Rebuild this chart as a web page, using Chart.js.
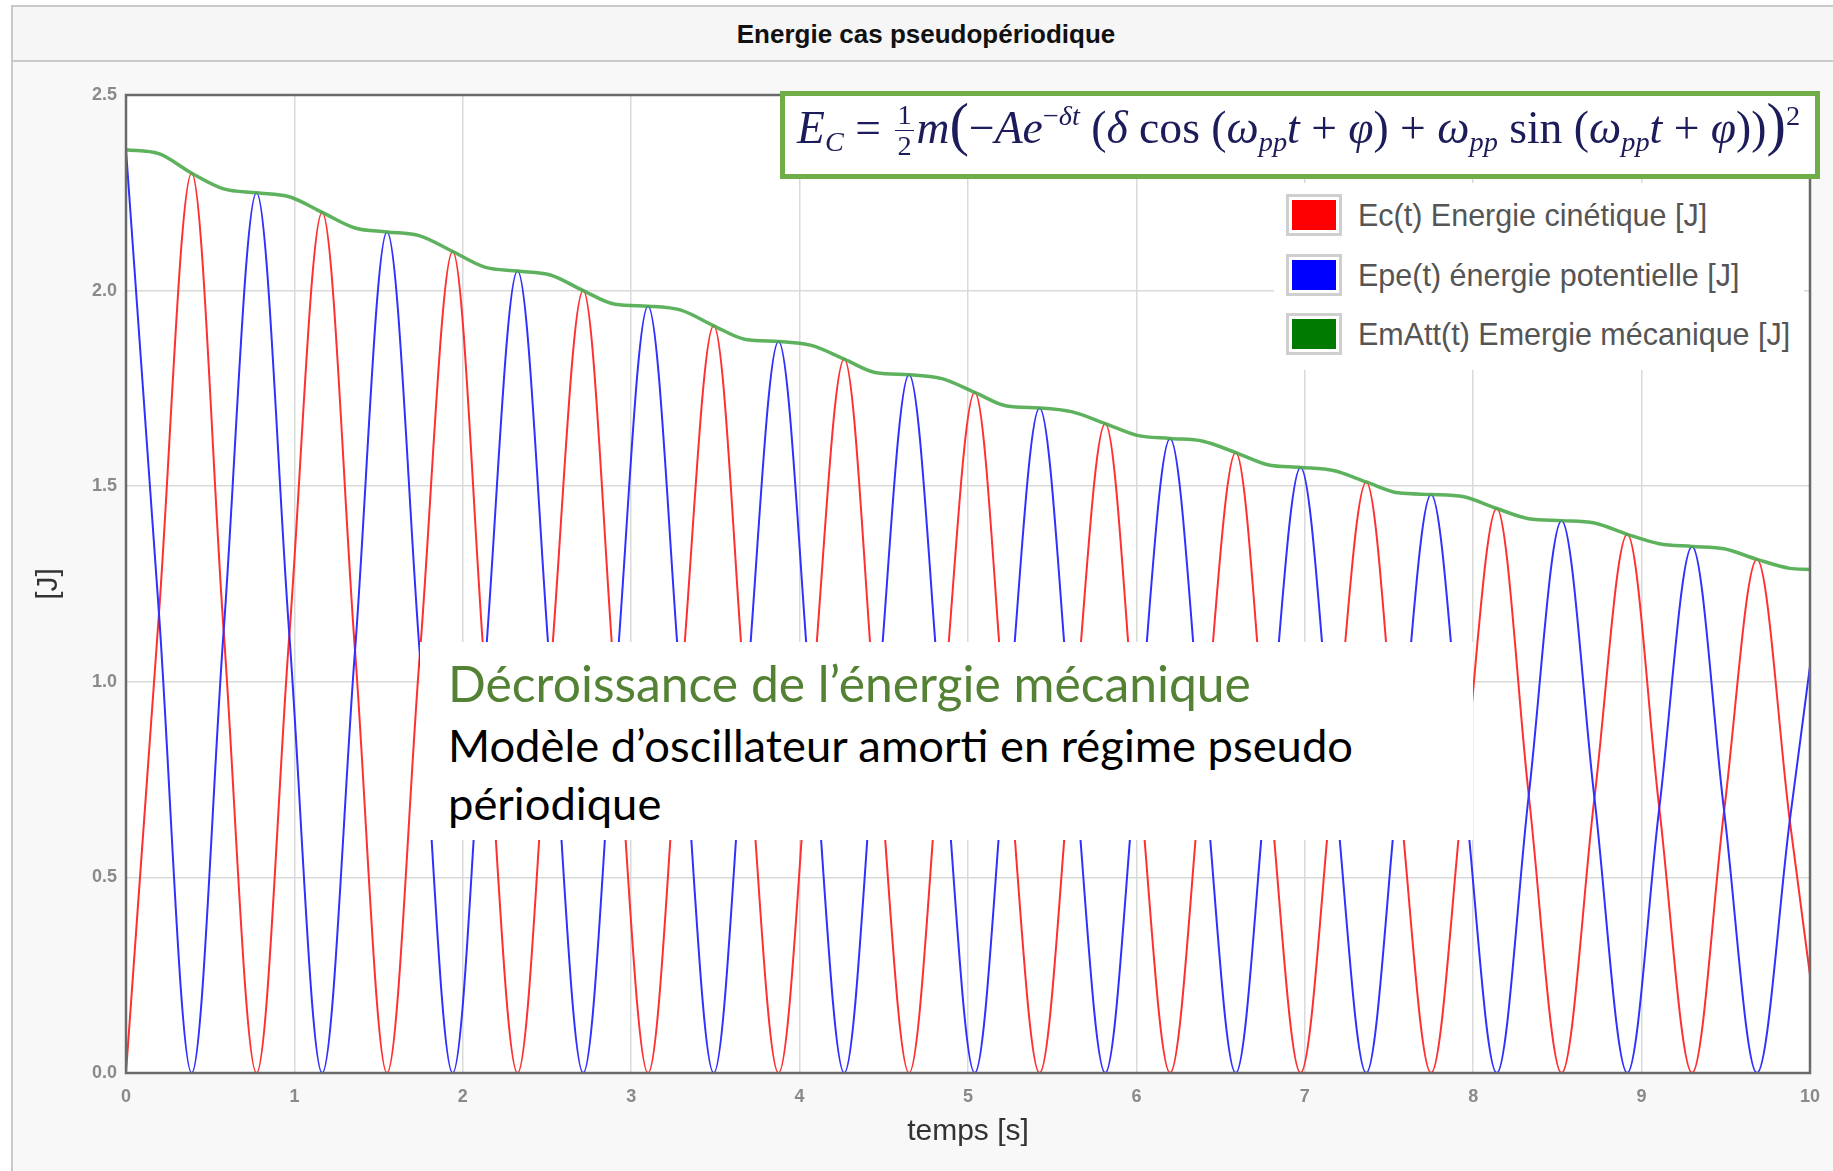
<!DOCTYPE html>
<html><head><meta charset="utf-8">
<script src="https://cdn.jsdelivr.net/npm/chart.js@4.4.1/dist/chart.umd.min.js"></script>
<style>
html,body{margin:0;padding:0;background:#fff;width:1833px;height:1171px;overflow:hidden;position:relative;}
#frame{position:absolute;left:11px;top:5px;width:1840px;height:1190px;border:2px solid #c9c9c9;background:#f8f8f8;box-sizing:border-box;}
#titlebar{position:absolute;left:11px;top:5px;width:1830px;height:57px;border:2px solid #c9c9c9;box-sizing:border-box;background:#f6f6f6;font:bold 26px "Liberation Sans",Arial,sans-serif;color:#111;text-align:center;line-height:54px;}
#c{position:absolute;left:0;top:0;}
.ov{position:absolute;}
.txt{position:absolute;white-space:nowrap;line-height:1.2;}
.bl{display:inline-block;width:0;height:0;vertical-align:baseline;}
#fbox{left:780px;top:91px;width:1040px;height:88px;border:5px solid #70ad47;background:#fff;box-sizing:border-box;}
#formula{font-family:"Liberation Serif","DejaVu Serif",serif;color:#1c1c5a;font-size:38px;}
#formula i{font-style:italic;}
#formula sub,#formula sup{font-size:0.62em;line-height:0;}
#formula sub{vertical-align:-0.28em;}
#formula sup{vertical-align:0.62em;}
.frac{display:inline-block;vertical-align:-0.42em;text-align:center;font-size:0.62em;line-height:1.05;margin:0 0.08em;}
.frac span{display:block;padding:0 0.1em;}
.frac .num{border-bottom:1.5px solid #1c1c5a;}
.big{font-size:1.28em;display:inline-block;transform:translateY(0.02em);}
#legbg{left:1274px;top:183px;width:530px;height:187px;background:#fff;}
.lbox{position:absolute;left:1286px;width:56px;height:42px;border:3px solid #cfcfcf;background:#fff;box-sizing:border-box;padding:3px;}
.lbox div{width:100%;height:100%;}
.ltxt{font-family:"Liberation Sans",Arial,sans-serif;font-size:30.5px;color:#555;}
#tbox{left:420px;top:642px;width:1053px;height:198px;background:#fff;}
.cal{font-family:Lato,"Open Sans",sans-serif;}
</style></head>
<body>
<div id="frame"></div>
<div id="titlebar">Energie cas pseudopériodique</div>
<canvas id="c" width="1833" height="1171"></canvas>

<div class="ov" id="fbox"></div>
<div class="txt" id="formula"><span class="t"><i>E</i><sub><i>C</i></sub> = <span class="frac"><span class="num">1</span><span>2</span></span><i>m</i><span class="big">(</span>−<i>Ae</i><sup>−<i>δt</i></sup> (<i>δ</i> cos (<i>ω</i><sub><i>pp</i></sub><i>t</i> + <i>φ</i>) + <i>ω</i><sub><i>pp</i></sub> sin (<i>ω</i><sub><i>pp</i></sub><i>t</i> + <i>φ</i>))<span class="big">)</span><sup>2</sup></span><span class="bl"></span></div>

<div class="ov" id="legbg"></div>
<div class="lbox" style="top:194px"><div style="background:#ff0000"></div></div>
<div class="lbox" style="top:254px"><div style="background:#0000ff"></div></div>
<div class="lbox" style="top:313px"><div style="background:#007a00"></div></div>
<div class="txt ltxt" id="l1"><span class="t">Ec(t) Energie cinétique [J]</span><span class="bl"></span></div>
<div class="txt ltxt" id="l2"><span class="t">Epe(t) énergie potentielle [J]</span><span class="bl"></span></div>
<div class="txt ltxt" id="l3"><span class="t">EmAtt(t) Emergie mécanique [J]</span><span class="bl"></span></div>

<div class="ov" id="tbox"></div>
<div class="txt cal" id="t1" style="color:#548235;font-size:48px"><span class="t">Décroissance de l’énergie mécanique</span><span class="bl"></span></div>
<div class="txt cal" id="t2" style="color:#000;font-size:44px"><span class="t">Modèle d’oscillateur amorti en régime pseudo</span><span class="bl"></span></div>
<div class="txt cal" id="t3" style="color:#000;font-size:44px"><span class="t">périodique</span><span class="bl"></span></div>

<script>
// ---- data ----
const times = [0.00,0.195,0.39,0.58, 0.775,0.97,1.165,1.36, 1.55,1.745,1.94,2.13, 2.325,2.52,2.715,2.905,
  3.10,3.295,3.49,3.68, 3.875,4.07,4.265,4.455, 4.65,4.845,5.04,5.23, 5.425,5.62,5.815,6.005,
  6.20,6.395,6.59,6.78, 6.975,7.17,7.365,7.555, 7.75,7.945,8.14,8.33, 8.525,8.72,8.915,9.105,
  9.30,9.49,9.685,9.88, 10.0];
const ecValues = [0,1.17,2.30,1.13, 0,1.12,2.20,1.08, 0,1.07,2.10,1.03, 0,1.02,2.00,0.98,
  0,0.975,1.91,0.94, 0,0.93,1.825,0.895, 0,0.89,1.74,0.855, 0,0.845,1.66,0.815,
  0,0.81,1.586,0.78, 0,0.77,1.511,0.742, 0,0.737,1.443,0.71, 0,0.703,1.377,0.677,
  0,0.67,1.313,0.645, 0.25];
const epeValues = [2.36,1.18,0,1.13, 2.25,1.12,0,1.08, 2.15,1.07,0,1.03, 2.05,1.02,0,0.98,
  1.96,0.975,0,0.94, 1.87,0.93,0,0.895, 1.785,0.89,0,0.855, 1.70,0.845,0,0.815,
  1.622,0.81,0,0.78, 1.548,0.77,0,0.742, 1.479,0.737,0,0.71, 1.412,0.703,0,0.677,
  1.346,0.67,0,0.645, 1.04];
const emValues = [2.36,2.35,2.30,2.26, 2.25,2.24,2.20,2.16, 2.15,2.14,2.10,2.06, 2.05,2.04,2.00,1.965,
  1.96,1.95,1.91,1.875, 1.87,1.86,1.825,1.79, 1.785,1.775,1.74,1.705, 1.70,1.69,1.66,1.63,
  1.622,1.615,1.586,1.555, 1.548,1.54,1.511,1.483, 1.479,1.473,1.443,1.417, 1.412,1.406,1.377,1.353,
  1.346,1.34,1.313,1.29, 1.287];
const seriesNames = ["Ec(t) Energie cinétique [J]","Epe(t) énergie potentielle [J]","EmAtt(t) Emergie mécanique [J]"];
const xTicks = [0,1,2,3,4,5,6,7,8,9,10];
const yTicks = [0,0.5,1.0,1.5,2.0,2.5];

const pts = vals => times.map((t,i)=>({x:t,y:vals[i]}));

const areaPlugin = {
  id:'area',
  beforeDraw(chart){
    const {ctx, chartArea:a} = chart;
    ctx.save(); ctx.fillStyle='#ffffff'; ctx.fillRect(a.left,a.top,a.width,a.height); ctx.restore();
  },
  afterDatasetsDraw(chart){
    const {ctx, chartArea:a} = chart;
    ctx.save(); ctx.strokeStyle='#6a6a6a'; ctx.lineWidth=2.5;
    ctx.strokeRect(a.left,a.top,a.width,a.height); ctx.restore();
  }
};

new Chart(document.getElementById('c'), {
  type:'line',
  data:{datasets:[
    {label:seriesNames[0], data:pts(ecValues), borderColor:'#ff3030', borderWidth:2, pointRadius:0, cubicInterpolationMode:'monotone', order:2},
    {label:seriesNames[1], data:pts(epeValues), borderColor:'#3030ff', borderWidth:2, pointRadius:0, cubicInterpolationMode:'monotone', order:1},
    {label:seriesNames[2], data:pts(emValues), borderColor:'rgba(76,170,76,0.9)', borderWidth:3.5, pointRadius:0, cubicInterpolationMode:'monotone', order:0}
  ]},
  options:{
    responsive:false, animation:false, events:[],
    layout:{padding:{left:0,top:95,right:18,bottom:0}},
    plugins:{legend:{display:false}, tooltip:{enabled:false}, title:{display:false}},
    scales:{
      x:{type:'linear', min:0, max:10,
        afterFit(s){s.height=98;},
        afterBuildTicks(s){s.ticks=xTicks.map(v=>({value:v}));},
        grid:{color:'#dadada', lineWidth:1.5, drawTicks:false},
        border:{display:false},
        ticks:{padding:13, color:'#8a8a8a', font:{family:'"Liberation Sans", Arial', size:18, weight:'bold'}, callback:v=>String(v)},
        title:{display:true, text:'temps [s]', color:'#333', font:{family:'"Liberation Sans", Arial', size:30}, padding:{top:0,bottom:21}}
      },
      y:{type:'linear', min:0, max:2.5,
        afterFit(s){s.width=126;},
        afterBuildTicks(s){s.ticks=yTicks.map(v=>({value:v}));},
        grid:{color:'#dadada', lineWidth:1.5, drawTicks:false},
        border:{display:false},
        ticks:{padding:9, color:'#8a8a8a', font:{family:'"Liberation Sans", Arial', size:18, weight:'bold'}, callback:v=>Number(v).toFixed(1)},
        title:{display:true, text:'[J]', color:'#333', font:{family:'"Liberation Sans", Arial', size:30}, padding:{top:31,bottom:0}}
      }
    }
  },
  plugins:[areaPlugin]
});

function place(id, x, baseline, targetWidth){
  const el = document.getElementById(id);
  el.style.left = x+'px'; el.style.top = '0px';
  if (targetWidth){
    const fs = parseFloat(getComputedStyle(el).fontSize);
    const w = el.querySelector('.t').getBoundingClientRect().width;
    el.style.fontSize = (fs*targetWidth/w)+'px';
  }
  const b = el.querySelector('.bl').getBoundingClientRect().bottom;
  el.style.top = (baseline - b)+'px';
}
function layoutText(){
  place('formula', 797, 143, 1003);
  place('l1', 1358, 226, 0);
  place('l2', 1358, 286, 0);
  place('l3', 1358, 345, 0);
  place('t1', 448, 702, 803);
  place('t2', 448, 762, 905);
  const fs2 = getComputedStyle(document.getElementById('t2')).fontSize;
  document.getElementById('t3').style.fontSize = fs2;
  place('t3', 448, 820, 0);
}
layoutText();
if (document.fonts && document.fonts.ready) document.fonts.ready.then(layoutText);
</script>
</body></html>
